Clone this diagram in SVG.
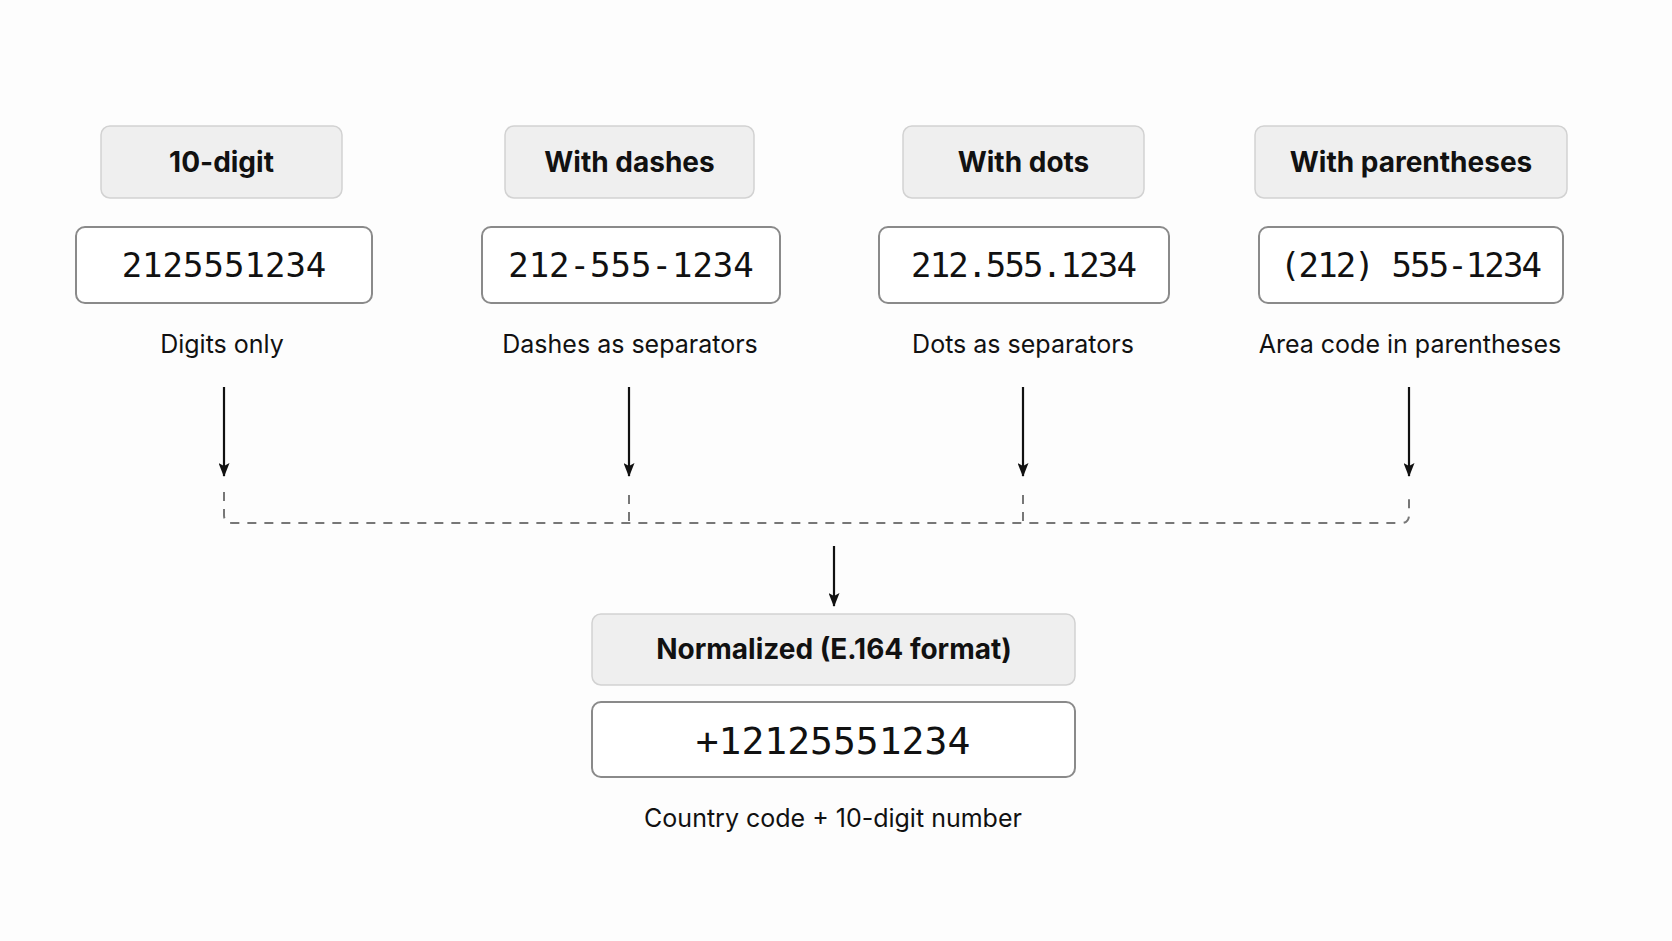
<svg xmlns="http://www.w3.org/2000/svg" width="1672" height="941" viewBox="0 0 1672 941">
<defs>
<style>
.hdr{fill:#efefef;stroke:#d2d2d2;stroke-width:1.5}
.val{fill:#ffffff;stroke:#8a8a8a;stroke-width:2}
.ht{font-family:Inter,"Liberation Sans",sans-serif;font-weight:700;font-size:28px;fill:#111;text-anchor:middle}
.vt{font-family:"DejaVu Sans Mono","Liberation Mono",monospace;font-size:34px;fill:#111;text-anchor:middle}
.lt{font-family:Inter,"Liberation Sans",sans-serif;font-size:25px;fill:#111;text-anchor:middle}
.arr{stroke:#111;stroke-width:2.2;fill:none;marker-end:url(#ah)}
.dash{stroke:#777;stroke-width:2;fill:none;stroke-dasharray:9 8}
</style>
<marker id="ah" viewBox="0 0 14 11" refX="13" refY="5.5" markerWidth="14" markerHeight="11" markerUnits="userSpaceOnUse" orient="auto">
<path d="M0,0 L14,5.5 L0,11 L3,5.5 z" fill="#111"/>
</marker>
</defs>
<rect width="1672" height="941" fill="#fdfdfd"/>
<g id="col1">
<rect class="hdr" x="101" y="126" width="241" height="72" rx="9"/>
<text class="ht" x="221.5" y="172">10-digit</text>
<rect class="val" x="76" y="227" width="296" height="76" rx="9"/>
<text class="vt" x="224" y="277">2125551234</text>
<text class="lt" x="222" y="353">Digits only</text>
</g>
<g id="col2">
<rect class="hdr" x="505" y="126" width="249" height="72" rx="9"/>
<text class="ht" x="629.5" y="172">With dashes</text>
<rect class="val" x="482" y="227" width="298" height="76" rx="9"/>
<text class="vt" x="631" y="277">212-555-1234</text>
<text class="lt" x="630" y="353">Dashes as separators</text>
</g>
<g id="col3">
<rect class="hdr" x="903" y="126" width="241" height="72" rx="9"/>
<text class="ht" x="1023.5" y="172">With dots</text>
<rect class="val" x="879" y="227" width="290" height="76" rx="9"/>
<text class="vt" x="1024" y="277" textLength="226" lengthAdjust="spacing">212.555.1234</text>
<text class="lt" x="1023" y="353">Dots as separators</text>
</g>
<g id="col4">
<rect class="hdr" x="1255" y="126" width="312" height="72" rx="9"/>
<text class="ht" x="1411" y="172">With parentheses</text>
<rect class="val" x="1259" y="227" width="304" height="76" rx="9"/>
<text class="vt" x="1411" y="277" textLength="262" lengthAdjust="spacing">(212) 555-1234</text>
<text class="lt" x="1410" y="353">Area code in parentheses</text>
</g>
<g id="normalized">
<rect class="hdr" x="592" y="614" width="483" height="71" rx="9"/>
<text class="ht" x="834" y="659">Normalized (E.164 format)</text>
<rect class="val" x="592" y="702" width="483" height="75" rx="9"/>
<text class="vt" x="833" y="754" style="font-size:38px">+12125551234</text>
<text class="lt" x="833" y="827">Country code + 10-digit number</text>
</g>
<g id="connectors">
<line class="arr" x1="224" y1="387" x2="224" y2="476"/>
<line class="arr" x1="629" y1="387" x2="629" y2="476"/>
<line class="arr" x1="1023" y1="387" x2="1023" y2="476"/>
<line class="arr" x1="1409" y1="387" x2="1409" y2="476"/>
<path class="dash" d="M224,492 V515 Q224,523 232,523 H1401 Q1409,523 1409,515 V494"/>
<line class="dash" x1="629" y1="495" x2="629" y2="523"/>
<line class="dash" x1="1023" y1="495" x2="1023" y2="523"/>
<line class="arr" x1="834" y1="546" x2="834" y2="606"/>
</g>
</svg>
